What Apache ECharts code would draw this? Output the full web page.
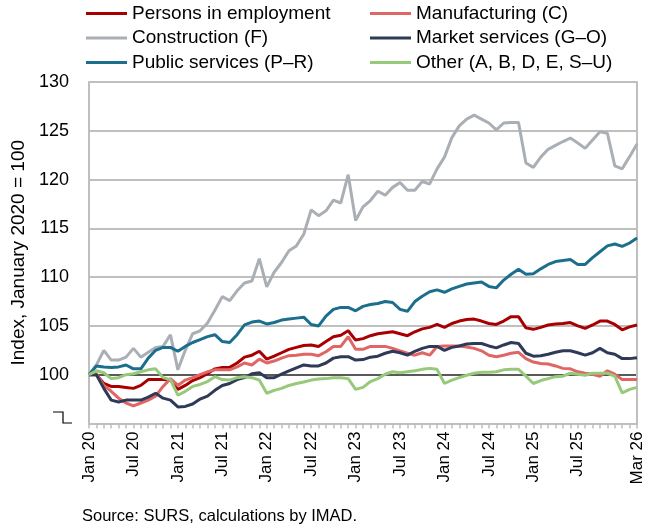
<!DOCTYPE html>
<html>
<head>
<meta charset="utf-8">
<script src="https://cdn.jsdelivr.net/npm/echarts@6/dist/echarts.min.js"></script>
<style>
  html, body { margin: 0; padding: 0; background: #fff; }
  #chart { width: 650px; height: 532px; }
</style>
</head>
<body>
<div id="chart"></div>
<script>
// month labels Jan 20 .. Mar 26
const monthNames = ['Jan', 'Feb', 'Mar', 'Apr', 'May', 'Jun', 'Jul', 'Aug', 'Sep', 'Oct', 'Nov', 'Dec'];
const years = ['20', '21', '22', '23', '24', '25', '26'];
const categories = [];
years.forEach(y => monthNames.forEach(m => categories.push(m + ' ' + y)));
categories.length = 75;

const yTicks = [95, 100, 105, 110, 115, 120, 125, 130];

const persons = [
  100, 100.0, 99.1, 98.8, 98.8, 98.7, 98.6, 98.9, 99.5, 99.5, 99.5, 99.45,
  98.5, 98.9, 99.4, 99.7, 100.1, 100.6, 100.75, 100.75, 101.2, 101.8, 102.0, 102.4,
  101.6, 101.9, 102.25, 102.6, 102.8, 103.0, 103.05, 102.9, 103.4, 103.9, 104.05, 104.5,
  103.55, 103.7, 104.0, 104.2, 104.3, 104.4, 104.2, 104.0, 104.4, 104.7, 104.85, 105.15,
  104.85, 105.25, 105.5, 105.65, 105.7, 105.5, 105.25, 105.15, 105.5, 105.95, 105.95, 104.8,
  104.65, 104.85, 105.1, 105.2, 105.25, 105.35, 105.0, 104.75, 105.1, 105.5, 105.5, 105.15,
  104.6, 104.9, 105.1
];
const manufacturing = [
  100, 100.1, 98.9, 98.3, 97.6, 97.1, 96.8, 97.1, 97.4, 97.8, 98.8, 99.6,
  98.9, 99.45, 99.7, 100.0, 100.3, 100.5, 100.5, 100.5, 100.8, 101.2, 101.0, 101.6,
  101.2, 101.4, 101.7, 101.95, 102.0, 102.1, 102.1, 101.95, 102.35, 102.9, 102.9, 103.9,
  102.6, 102.6, 102.9, 102.9, 102.9, 102.7, 102.45, 102.2, 102.0, 102.25, 102.0, 102.9,
  102.95, 102.95, 102.95, 102.85, 102.7, 102.45, 102.0, 101.85, 102.0, 102.2, 102.3, 101.65,
  101.3, 101.15, 101.1, 100.9, 100.65, 100.6, 100.3, 100.15, 100.05, 99.85, 100.4, 100.05,
  99.5, 99.5, 99.5
];
const construction = [
  100, 101.0, 102.5, 101.5, 101.5, 101.8, 102.7, 101.8, 102.3, 102.8, 102.9, 104.1,
  100.5, 102.5, 104.2, 104.5, 105.3, 106.6, 108.0, 107.6, 108.6, 109.4, 109.6, 111.9,
  109.0, 110.5, 111.5, 112.7, 113.2, 114.4, 116.9, 116.3, 116.8, 117.9, 117.6, 120.5,
  115.8, 117.2, 117.85, 118.8, 118.4, 119.2, 119.7, 118.9, 118.9, 119.8, 119.55, 121.1,
  122.3, 124.3, 125.5, 126.2, 126.6, 126.2, 125.8, 125.1, 125.8, 125.85, 125.85, 121.7,
  121.25, 122.3, 123.1, 123.5, 123.9, 124.25, 123.75, 123.2, 124.05, 124.9, 124.75, 121.4,
  121.1, 122.35, 123.65
];
const marketServices = [
  100, 100.0, 98.6, 97.4, 97.2, 97.4, 97.4, 97.4, 97.7, 98.1, 97.6, 97.4,
  96.7, 96.75, 97.0, 97.5, 97.8, 98.4, 98.9, 99.1, 99.5, 99.7, 100.1, 100.2,
  99.7, 99.7, 100.05, 100.4, 100.7, 101.0, 100.9, 100.9, 101.2, 101.7, 101.85, 101.85,
  101.5, 101.55, 101.8, 101.9, 102.2, 102.4, 102.25, 102.0, 102.4, 102.7, 102.9, 102.9,
  102.5, 102.8, 102.95, 103.15, 103.2, 103.2, 102.95, 102.75, 103.05, 103.3, 103.2, 102.2,
  101.9, 101.95, 102.1, 102.3, 102.45, 102.45, 102.25, 102.0, 102.25, 102.7, 102.25, 102.1,
  101.65, 101.65, 101.75
];
const publicServices = [
  100, 100.9, 100.8, 100.75, 100.8, 101.0, 100.6, 100.6, 101.7, 102.5, 102.8, 102.8,
  102.4, 102.9, 103.3, 103.6, 103.9, 104.1, 103.4, 103.3, 104.1, 105.1, 105.4, 105.5,
  105.2, 105.35, 105.6, 105.7, 105.8, 105.9, 105.15, 105.0, 106.0, 106.7, 106.9, 106.9,
  106.55, 107.0, 107.2, 107.3, 107.5, 107.4, 106.7, 106.5, 107.5, 108.05, 108.5, 108.7,
  108.45, 108.8, 109.05, 109.3, 109.4, 109.5, 109.05, 108.9, 109.7, 110.3, 110.8, 110.3,
  110.35, 110.85, 111.3, 111.6, 111.7, 111.8, 111.3, 111.3, 112.0, 112.6, 113.2, 113.4,
  113.15, 113.5, 114.0
];
const other = [
  100, 100.4, 100.2, 99.6, 99.7, 100.0, 100.1, 100.3, 100.5, 100.6, 99.7, 99.5,
  97.9, 98.3, 98.8, 99.0, 99.3, 99.8, 99.5, 99.45, 99.7, 99.8, 99.7, 99.45,
  98.1, 98.4, 98.6, 98.9, 99.1, 99.25, 99.45, 99.55, 99.6, 99.7, 99.7, 99.6,
  98.5, 98.7, 99.3, 99.6, 100.05, 100.3, 100.2, 100.3, 100.4, 100.55, 100.65, 100.55,
  99.1, 99.45, 99.7, 99.95, 100.15, 100.25, 100.25, 100.3, 100.5, 100.55, 100.55, 99.85,
  99.1, 99.4, 99.6, 99.8, 99.85, 100.15, 100.05, 99.95, 100.15, 100.15, 100.15, 99.85,
  98.15, 98.5, 98.7
];

const font = 'Liberation Sans, Arial, sans-serif';
const gridGray = '#bfbfbf';

const mk = (name, data, color) => ({
  name: name,
  type: 'line',
  data: data,
  symbol: 'none',
  color: color,
  lineStyle: { width: 3, color: color },
  emphasis: { disabled: true }
});

const legendBase = {
  orient: 'vertical', top: 0, padding: [4, 0, 0, 0], itemGap: 5.5,
  icon: 'rect', itemWidth: 41, itemHeight: 3,
  textStyle: { fontFamily: font, fontSize: 19, color: '#000', lineHeight: 19 }
};

const chart = echarts.init(document.getElementById('chart'));
chart.setOption({
  animation: false,
  textStyle: { fontFamily: font, color: '#000' },
  legend: [
    Object.assign({}, legendBase, {
      data: ['Persons in employment', 'Construction (F)', 'Public services (P–R)'],
      left: 86
    }),
    Object.assign({}, legendBase, {
      data: ['Manufacturing (C)', 'Market services (G–O)', 'Other (A, B, D, E, S–U)'],
      left: 370
    })
  ],
  grid: { left: 89, right: 13, top: 82, bottom: 108.5 },
  xAxis: {
    type: 'category',
    data: categories,
    boundaryGap: false,
    axisLine: { lineStyle: { color: gridGray, width: 2 } },
    axisTick: { interval: 0, length: 5, lineStyle: { color: gridGray, width: 1.5 } },
    axisLabel: {
      rotate: 90,
      margin: 8,
      fontSize: 17,
      color: '#000',
      fontFamily: font,
      interval: (i) => (i % 6 === 0 && i < 72) || i === 74
    }
  },
  yAxis: [
    {
      type: 'value',
      min: yTicks[0], max: yTicks[yTicks.length - 1], interval: 5,
      name: 'Index, January 2020 = 100',
      nameLocation: 'middle',
      nameGap: 57,
      nameTextStyle: { fontSize: 19, color: '#000', fontFamily: font },
      axisLine: { show: true, lineStyle: { color: gridGray, width: 2 } },
      axisTick: { show: false },
      axisLabel: {
        fontSize: 18, color: '#000', margin: 20, fontFamily: font,
        formatter: (v) => (v === 95 ? '' : String(v))
      },
      splitLine: {
        show: true,
        lineStyle: {
          width: 2,
          color: [gridGray, '#595959', gridGray, gridGray, gridGray, gridGray, gridGray, gridGray]
        }
      }
    },
    {
      type: 'value',
      position: 'right',
      min: yTicks[0], max: yTicks[yTicks.length - 1], interval: 5,
      axisLine: { show: true, lineStyle: { color: gridGray, width: 2 } },
      axisTick: { show: false },
      axisLabel: { show: false },
      splitLine: { show: false }
    }
  ],
  series: [
    mk('Persons in employment', persons, '#a80000'),
    mk('Manufacturing (C)', manufacturing, '#e06666'),
    mk('Construction (F)', construction, '#a9afb5'),
    mk('Market services (G–O)', marketServices, '#2e3a57'),
    mk('Public services (P–R)', publicServices, '#1c6f8c'),
    mk('Other (A, B, D, E, S–U)', other, '#96c97a')
  ],
  graphic: [
    {
      type: 'polyline',
      shape: { points: [[53, 412], [63, 412], [63, 423], [72, 423]] },
      style: { stroke: '#000', lineWidth: 1.2, fill: null }
    },
    {
      type: 'text',
      left: 82, top: 508,
      style: { text: 'Source: SURS, calculations by IMAD.', fontSize: 16.5, fontFamily: font, fill: '#000' }
    }
  ]
});
</script>
</body>
</html>
